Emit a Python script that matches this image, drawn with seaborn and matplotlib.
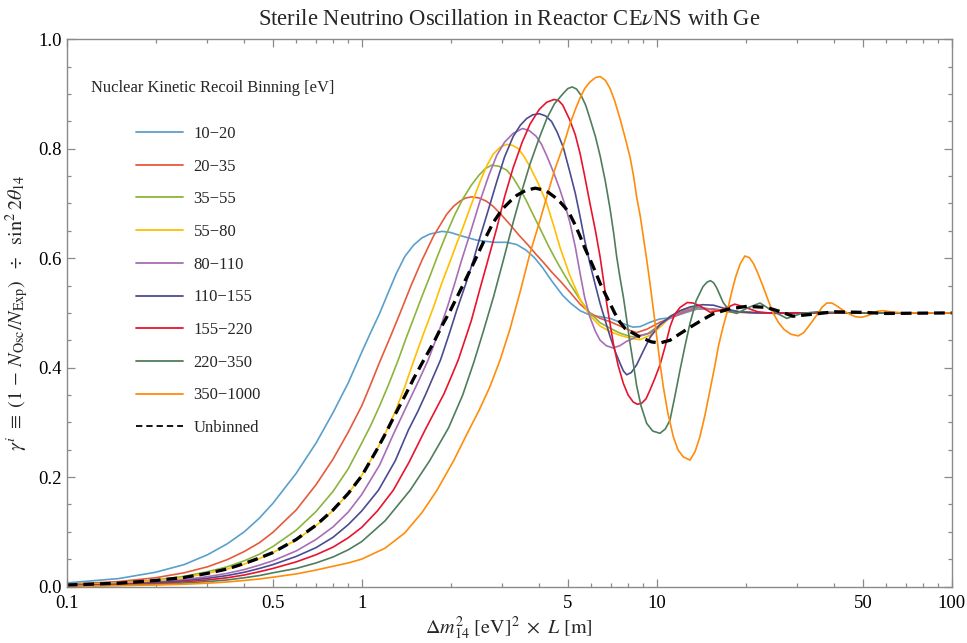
import matplotlib
matplotlib.use("Agg")
import matplotlib.pyplot as plt
from matplotlib.lines import Line2D
from matplotlib.ticker import FixedLocator, NullFormatter
import seaborn as sns
import pandas as pd

# (dm^2 * L, gamma) pairs
bin_10_20 = [(0.1, 0.0065), (0.15, 0.0145), (0.2, 0.026), (0.25, 0.040), (0.3, 0.058), (0.35, 0.078),
             (0.4, 0.100), (0.45, 0.125), (0.5, 0.152), (0.6, 0.207), (0.7, 0.262), (0.8, 0.318),
             (0.9, 0.372), (1.0, 0.428), (1.07, 0.463), (1.15, 0.499), (1.23, 0.537), (1.31, 0.572),
             (1.4, 0.603), (1.5, 0.624), (1.6, 0.637), (1.7, 0.644), (1.87, 0.649), (2.0, 0.647),
             (2.2, 0.640), (2.45, 0.633), (2.8, 0.629), (3.1, 0.629), (3.35, 0.625), (3.6, 0.615),
             (3.85, 0.601), (4.1, 0.583), (4.4, 0.559), (4.8, 0.532), (5.1, 0.518), (5.5, 0.504),
             (5.94, 0.496), (6.43, 0.493), (6.95, 0.490), (7.5, 0.483), (7.9, 0.478), (8.3, 0.474),
             (8.8, 0.475), (9.5, 0.483), (10.26, 0.489), (11.1, 0.491), (12.3, 0.499), (13.7, 0.507),
             (15.5, 0.507), (18, 0.503), (22, 0.500), (30, 0.500), (100, 0.500)]

bin_20_35 = [(0.1, 0.004), (0.15, 0.009), (0.2, 0.016), (0.25, 0.025), (0.3, 0.036), (0.35, 0.049),
             (0.4, 0.064), (0.45, 0.080), (0.5, 0.099), (0.6, 0.140), (0.7, 0.186), (0.8, 0.233),
             (0.9, 0.282), (1.0, 0.330), (1.07, 0.368), (1.15, 0.410), (1.25, 0.456), (1.35, 0.500),
             (1.47, 0.550), (1.6, 0.596), (1.75, 0.640), (1.94, 0.680), (2.05, 0.695), (2.15, 0.704),
             (2.25, 0.710), (2.36, 0.712), (2.5, 0.710), (2.65, 0.704), (2.8, 0.694), (3.0, 0.677),
             (3.2, 0.660), (3.4, 0.643), (3.65, 0.625), (3.9, 0.607), (4.15, 0.591), (4.4, 0.575),
             (4.75, 0.556), (5.08, 0.538), (5.5, 0.516), (5.94, 0.500), (6.43, 0.490), (6.95, 0.484),
             (7.51, 0.476), (8.12, 0.468), (8.55, 0.464), (9.25, 0.470), (10.26, 0.483), (11.1, 0.490),
             (12.3, 0.501), (13.7, 0.509), (15.5, 0.507), (18, 0.503), (22, 0.500), (30, 0.500),
             (100, 0.500)]

bin_35_55 = [(0.1, 0.003), (0.15, 0.0066), (0.2, 0.012), (0.25, 0.0185), (0.3, 0.027), (0.35, 0.036),
             (0.4, 0.047), (0.45, 0.059), (0.5, 0.073), (0.6, 0.103), (0.7, 0.137), (0.8, 0.174),
             (0.9, 0.215), (1.0, 0.262), (1.07, 0.293), (1.15, 0.330), (1.24, 0.372), (1.33, 0.414),
             (1.41, 0.452), (1.5, 0.490), (1.6, 0.530), (1.7, 0.566), (1.82, 0.608), (1.94, 0.645),
             (2.07, 0.680), (2.2, 0.708), (2.35, 0.733), (2.5, 0.752), (2.63, 0.764), (2.76, 0.770),
             (2.92, 0.768), (3.1, 0.761), (3.25, 0.748), (3.4, 0.731), (3.6, 0.707), (3.8, 0.681),
             (4.05, 0.651), (4.3, 0.622), (4.55, 0.597), (4.8, 0.575), (5.08, 0.553), (5.5, 0.524),
             (5.94, 0.500), (6.43, 0.482), (6.95, 0.472), (7.51, 0.463), (8.12, 0.457), (8.55, 0.456),
             (9.25, 0.461), (10.26, 0.478), (11.1, 0.494), (12.3, 0.506), (13.7, 0.511), (15.5, 0.506),
             (18, 0.502), (22, 0.500), (30, 0.500), (100, 0.500)]

bin_55_80 = [(0.1, 0.0025), (0.15, 0.0058), (0.2, 0.0105), (0.25, 0.016), (0.3, 0.024), (0.35, 0.032),
             (0.4, 0.041), (0.45, 0.051), (0.5, 0.062), (0.6, 0.085), (0.7, 0.111), (0.8, 0.139),
             (0.9, 0.170), (1.0, 0.203), (1.12, 0.248), (1.21, 0.283), (1.3, 0.320), (1.4, 0.365),
             (1.5, 0.412), (1.62, 0.462), (1.75, 0.510), (1.87, 0.555), (2.0, 0.596), (2.1, 0.627),
             (2.2, 0.655), (2.36, 0.700), (2.52, 0.740), (2.65, 0.768), (2.79, 0.790), (2.95, 0.803),
             (3.1, 0.808), (3.25, 0.806), (3.4, 0.800), (3.55, 0.786), (3.72, 0.767), (3.98, 0.735),
             (4.24, 0.700), (4.47, 0.660), (4.7, 0.620), (4.9, 0.592), (5.08, 0.568), (5.3, 0.545),
             (5.5, 0.525), (5.94, 0.495), (6.43, 0.476), (6.95, 0.466), (7.51, 0.459), (8.12, 0.454),
             (8.78, 0.451), (9.49, 0.459), (10.26, 0.474), (11.1, 0.492), (12.3, 0.506), (13.7, 0.510),
             (15.5, 0.505), (18, 0.501), (22, 0.500), (30, 0.500), (100, 0.500)]

bin_80_110 = [(0.1, 0.002), (0.15, 0.0045), (0.2, 0.008), (0.25, 0.0125), (0.3, 0.018), (0.35, 0.024),
              (0.4, 0.031), (0.45, 0.039), (0.5, 0.047), (0.6, 0.065), (0.7, 0.086), (0.8, 0.109),
              (0.9, 0.136), (1.0, 0.168), (1.15, 0.222), (1.28, 0.278), (1.45, 0.340), (1.56, 0.376),
              (1.68, 0.414), (1.81, 0.460), (1.95, 0.510), (2.07, 0.555), (2.18, 0.596), (2.33, 0.645),
              (2.52, 0.705), (2.7, 0.752), (2.87, 0.788), (3.05, 0.812), (3.26, 0.828), (3.51, 0.837),
              (3.7, 0.833), (3.9, 0.823), (4.07, 0.808), (4.24, 0.787), (4.47, 0.757), (4.7, 0.725),
              (4.9, 0.695), (5.08, 0.665), (5.3, 0.620), (5.5, 0.572), (5.7, 0.528), (5.94, 0.492),
              (6.2, 0.466), (6.43, 0.450), (6.75, 0.440), (7.1, 0.436), (7.5, 0.440), (7.9, 0.448),
              (8.8, 0.459), (9.5, 0.463), (10.26, 0.478), (11.1, 0.491), (12.3, 0.503), (13.7, 0.510),
              (15.5, 0.506), (18, 0.502), (22, 0.500), (30, 0.500), (100, 0.500)]

bin_110_155 = [(0.1, 0.0017), (0.15, 0.0038), (0.2, 0.0067), (0.25, 0.0105), (0.3, 0.015), (0.35, 0.020),
               (0.4, 0.026), (0.45, 0.033), (0.5, 0.040), (0.6, 0.055), (0.7, 0.071), (0.8, 0.090),
               (0.9, 0.113), (1.0, 0.138), (1.14, 0.176), (1.3, 0.230), (1.44, 0.286), (1.55, 0.320),
               (1.65, 0.352), (1.85, 0.414), (1.97, 0.458), (2.1, 0.505), (2.25, 0.552), (2.39, 0.596),
               (2.52, 0.639), (2.7, 0.692), (2.87, 0.740), (3.05, 0.785), (3.26, 0.822), (3.45, 0.843),
               (3.62, 0.855), (3.8, 0.862), (4.0, 0.864), (4.2, 0.860), (4.4, 0.850), (4.6, 0.830),
               (4.82, 0.803), (5.08, 0.757), (5.3, 0.718), (5.5, 0.676), (5.7, 0.633), (5.94, 0.590),
               (6.2, 0.550), (6.43, 0.517), (6.7, 0.485), (6.95, 0.457), (7.25, 0.428), (7.51, 0.408),
               (7.71, 0.394), (7.91, 0.387), (8.2, 0.391), (8.55, 0.405), (9.0, 0.430), (9.49, 0.455),
               (10.26, 0.479), (11.1, 0.493), (12.0, 0.504), (13.0, 0.511), (14.3, 0.515), (15.6, 0.514),
               (17, 0.508), (19, 0.502), (22, 0.500), (30, 0.500), (100, 0.500)]

bin_155_220 = [(0.1, 0.0013), (0.15, 0.003), (0.2, 0.0053), (0.25, 0.0083), (0.3, 0.012), (0.35, 0.016),
               (0.4, 0.021), (0.45, 0.027), (0.5, 0.033), (0.6, 0.045), (0.7, 0.058), (0.8, 0.072),
               (0.9, 0.089), (1.0, 0.108), (1.13, 0.138), (1.28, 0.176), (1.45, 0.228), (1.64, 0.286),
               (1.9, 0.352), (2.0, 0.380), (2.125, 0.414), (2.23, 0.448), (2.35, 0.485), (2.52, 0.545),
               (2.69, 0.600), (2.87, 0.655), (3.05, 0.712), (3.26, 0.765), (3.5, 0.812), (3.72, 0.845),
               (4.0, 0.872), (4.24, 0.885), (4.49, 0.890), (4.65, 0.888), (4.8, 0.880), (5.08, 0.852),
               (5.3, 0.825), (5.5, 0.791), (5.7, 0.750), (5.94, 0.700), (6.2, 0.650), (6.43, 0.602),
               (6.6, 0.560), (6.77, 0.517), (6.95, 0.480), (7.13, 0.444), (7.4, 0.404), (7.71, 0.371),
               (8.0, 0.350), (8.33, 0.337), (8.6, 0.333), (8.9, 0.335), (9.2, 0.343), (9.49, 0.359),
               (9.85, 0.380), (10.26, 0.405), (10.7, 0.440), (11.1, 0.475), (11.5, 0.497), (12.0, 0.510),
               (12.7, 0.519), (13.3, 0.518), (14.0, 0.513), (15.2, 0.501), (16.5, 0.505), (18.4, 0.516),
               (20, 0.510), (22, 0.502), (25, 0.499), (30, 0.500), (100, 0.500)]

bin_220_350 = [(0.1, 0.001), (0.15, 0.0023), (0.2, 0.004), (0.25, 0.0063), (0.3, 0.009), (0.35, 0.012),
               (0.4, 0.016), (0.45, 0.020), (0.5, 0.025), (0.6, 0.033), (0.7, 0.043), (0.8, 0.054),
               (0.9, 0.067), (1.0, 0.082), (1.2, 0.120), (1.46, 0.176), (1.7, 0.230), (1.97, 0.290),
               (2.2, 0.350), (2.4, 0.410), (2.58, 0.465), (2.8, 0.530), (3.02, 0.596), (3.26, 0.665),
               (3.5, 0.725), (3.72, 0.772), (4.0, 0.820), (4.24, 0.855), (4.5, 0.882), (4.82, 0.901),
               (5.0, 0.910), (5.17, 0.913), (5.35, 0.909), (5.55, 0.897), (5.75, 0.879), (5.94, 0.855),
               (6.2, 0.822), (6.43, 0.787), (6.7, 0.740), (6.95, 0.690), (7.15, 0.645), (7.32, 0.602),
               (7.5, 0.566), (7.71, 0.529), (7.9, 0.490), (8.12, 0.445), (8.35, 0.404), (8.55, 0.367),
               (8.85, 0.330), (9.25, 0.298), (9.7, 0.284), (10.26, 0.280), (10.7, 0.288), (11.09, 0.304),
               (11.5, 0.345), (12.0, 0.396), (12.5, 0.442), (12.97, 0.481), (13.6, 0.522), (14.35, 0.548),
               (14.8, 0.556), (15.2, 0.559), (15.6, 0.555), (16.0, 0.545), (16.8, 0.519), (17.7, 0.503),
               (18.66, 0.499), (20.5, 0.510), (22.4, 0.518), (24.8, 0.503), (27.6, 0.490), (31, 0.499),
               (35, 0.502), (45, 0.500), (100, 0.500)]

bin_350_1000 = [(0.1, 0.0007), (0.15, 0.0015), (0.2, 0.0027), (0.25, 0.0042), (0.3, 0.006), (0.35, 0.0083),
                (0.4, 0.011), (0.45, 0.0138), (0.5, 0.017), (0.6, 0.023), (0.7, 0.030), (0.8, 0.037),
                (0.9, 0.043), (1.0, 0.050), (1.2, 0.070), (1.4, 0.098), (1.6, 0.135), (1.8, 0.176),
                (2.05, 0.230), (2.31, 0.286), (2.5, 0.322), (2.72, 0.365), (2.95, 0.415), (3.18, 0.470),
                (3.45, 0.540), (3.72, 0.609), (4.0, 0.665), (4.24, 0.712), (4.5, 0.760), (4.82, 0.805),
                (5.08, 0.845), (5.3, 0.872), (5.5, 0.893), (5.7, 0.910), (5.94, 0.922), (6.2, 0.930),
                (6.43, 0.932), (6.7, 0.925), (6.95, 0.910), (7.2, 0.888), (7.51, 0.855), (7.8, 0.822),
                (8.12, 0.785), (8.35, 0.750), (8.55, 0.712), (8.8, 0.676), (9.01, 0.639), (9.25, 0.597),
                (9.49, 0.554), (9.75, 0.505), (10.0, 0.457), (10.25, 0.410), (10.53, 0.365), (10.9, 0.318),
                (11.38, 0.274), (11.8, 0.250), (12.3, 0.237), (12.97, 0.231), (13.5, 0.247), (14.02, 0.274),
                (14.6, 0.315), (15.16, 0.359), (15.7, 0.400), (16.2, 0.440), (16.8, 0.475), (17.3, 0.500),
                (17.9, 0.535), (18.5, 0.565), (19.2, 0.590), (19.9, 0.604), (20.6, 0.601), (21.3, 0.590),
                (22.0, 0.573), (22.8, 0.552), (23.8, 0.525), (24.8, 0.500), (25.9, 0.482), (27.0, 0.470),
                (28.5, 0.461), (30.2, 0.458), (31.5, 0.464), (33.0, 0.478), (35.0, 0.497), (36.3, 0.510),
                (37.7, 0.518), (39.3, 0.518), (41.0, 0.512), (43, 0.504), (45.0, 0.498), (47.2, 0.493),
                (49.5, 0.492), (52, 0.495), (54.0, 0.499), (56, 0.503), (58.6, 0.504), (62, 0.502),
                (68, 0.500), (100, 0.500)]

unbinned = [(0.1, 0.0027), (0.15, 0.006), (0.2, 0.011), (0.25, 0.0165), (0.3, 0.024), (0.35, 0.032),
            (0.4, 0.042), (0.45, 0.052), (0.5, 0.062), (0.6, 0.086), (0.7, 0.112), (0.8, 0.140),
            (0.9, 0.170), (1.0, 0.202), (1.12, 0.248), (1.2, 0.278), (1.3, 0.315), (1.4, 0.348),
            (1.5, 0.380), (1.62, 0.413), (1.75, 0.445), (1.87, 0.476), (2.0, 0.505), (2.2, 0.550),
            (2.42, 0.596), (2.6, 0.632), (2.79, 0.665), (3.0, 0.690), (3.2, 0.705), (3.36, 0.715),
            (3.6, 0.724), (3.88, 0.728), (4.1, 0.725), (4.3, 0.720), (4.5, 0.712), (4.7, 0.703),
            (4.9, 0.692), (5.08, 0.680), (5.3, 0.660), (5.5, 0.640), (5.7, 0.619), (5.94, 0.598),
            (6.2, 0.575), (6.43, 0.554), (6.7, 0.534), (6.95, 0.517), (7.2, 0.500), (7.51, 0.483),
            (7.8, 0.472), (8.12, 0.466), (8.78, 0.456), (9.6, 0.447), (10.26, 0.445), (11.09, 0.450),
            (12.0, 0.462), (13.0, 0.474), (14.35, 0.488), (15.5, 0.498), (17.5, 0.507), (20.2, 0.512),
            (23.6, 0.510), (26.0, 0.503), (29.0, 0.494), (33.0, 0.497), (40.0, 0.502), (50.0, 0.501),
            (60.0, 0.499), (100, 0.500)]

bin_labels = ["10\u221220", "20\u221235", "35\u221255", "55\u221280", "80\u2212110",
              "110\u2212155", "155\u2212220", "220\u2212350", "350\u22121000"]
bin_colors = ["#5b9fcc", "#e65a3c", "#8cb43c", "#ffbe00", "#a86db5",
              "#4a4b92", "#e8132f", "#4f7d5b", "#ff8c0a"]
bin_series = [bin_10_20, bin_20_35, bin_35_55, bin_55_80, bin_80_110,
              bin_110_155, bin_155_220, bin_220_350, bin_350_1000]

frames = []
for lab, pts in zip(bin_labels, bin_series):
    xs, ys = zip(*pts)
    frames.append(pd.DataFrame({"x": xs, "y": ys, "bin": lab}))
df = pd.concat(frames, ignore_index=True)
ux, uy = zip(*unbinned)
df_unb = pd.DataFrame({"x": ux, "y": uy})

sns.set_style("ticks")
plt.rcParams["font.family"] = ["Liberation Serif", "DejaVu Serif"]
plt.rcParams["mathtext.fontset"] = "stix"

fig = plt.figure(figsize=(9.67, 6.43), dpi=100)
ax = fig.add_axes([66.7 / 967, 1 - 586.5 / 643, 885 / 967, 547.2 / 643])

sns.lineplot(data=df, x="x", y="y", hue="bin", hue_order=bin_labels, palette=bin_colors,
             estimator=None, sort=True, linewidth=1.2, legend=False, ax=ax)
sns.lineplot(data=df_unb, x="x", y="y", color="black", estimator=None, linewidth=2.35,
             legend=False, ax=ax)
ax.lines[-1].set_dashes([3.3, 1.8])

ax.set_xscale("log")
ax.set_xlim(0.1, 100)
ax.set_ylim(0, 1)

frame_col = "#8a8a8a"
for sp in ax.spines.values():
    sp.set_color(frame_col)
    sp.set_linewidth(1.0)

major_x = [0.1, 0.5, 1, 5, 10, 50, 100]
minor_x = [0.2, 0.3, 0.4, 0.6, 0.7, 0.8, 0.9, 2, 3, 4, 6, 7, 8, 9, 20, 30, 40, 60, 70, 80, 90]
ax.xaxis.set_major_locator(FixedLocator(major_x))
ax.set_xticklabels(["0.1", "0.5", "1", "5", "10", "50", "100"])
ax.xaxis.set_minor_locator(FixedLocator(minor_x))
ax.xaxis.set_minor_formatter(NullFormatter())
ax.set_yticks([0, 0.2, 0.4, 0.6, 0.8, 1.0])
ax.set_yticklabels(["0.0", "0.2", "0.4", "0.6", "0.8", "1.0"])
ax.yaxis.set_minor_locator(FixedLocator([0.05, 0.1, 0.15, 0.25, 0.3, 0.35, 0.45, 0.5, 0.55,
                                         0.65, 0.7, 0.75, 0.85, 0.9, 0.95]))
ax.tick_params(which="both", direction="in", top=True, right=True, color=frame_col,
               labelsize=13.5, labelcolor="black", width=0.9)
ax.tick_params(which="major", length=6)
ax.tick_params(which="minor", length=3.2)
ax.tick_params(axis="x", pad=6)

ax.set_xlabel(r"$\Delta m^2_{14}\ [\mathrm{eV}]^2\ \times\ L\ [\mathrm{m}]$", fontsize=14.5, labelpad=2)
ax.set_ylabel(r"$\gamma^i\ \equiv\ (1\,-\,N_{\mathrm{Osc}}/N_{\mathrm{Exp}})\ \ \div\ \ \sin^2 2\theta_{14}$",
              fontsize=14.5, labelpad=5)
ax.set_title(r"Sterile Neutrino Oscillation in Reactor CE$\nu$NS with Ge", fontsize=16.3, pad=10)

ax.text((91 - 66.7) / 885, (586.5 - 88) / 547.2, "Nuclear Kinetic Recoil Binning [eV]",
        transform=ax.transAxes, fontsize=11.9, va="center", ha="left")

handles = [Line2D([], [], color=c, lw=1.3) for c in bin_colors]
handles.append(Line2D([], [], color="black", lw=1.3, dashes=[3.5, 2.2]))
ax.legend(handles, bin_labels + ["Unbinned"], loc="upper left",
          bbox_to_anchor=((136 - 66.7) / 885, (586.5 - 126) / 547.2), frameon=False,
          fontsize=12, handlelength=2.8, handletextpad=0.65, labelspacing=1.0,
          borderpad=0, borderaxespad=0)

fig.savefig("out.png", dpi=100)
